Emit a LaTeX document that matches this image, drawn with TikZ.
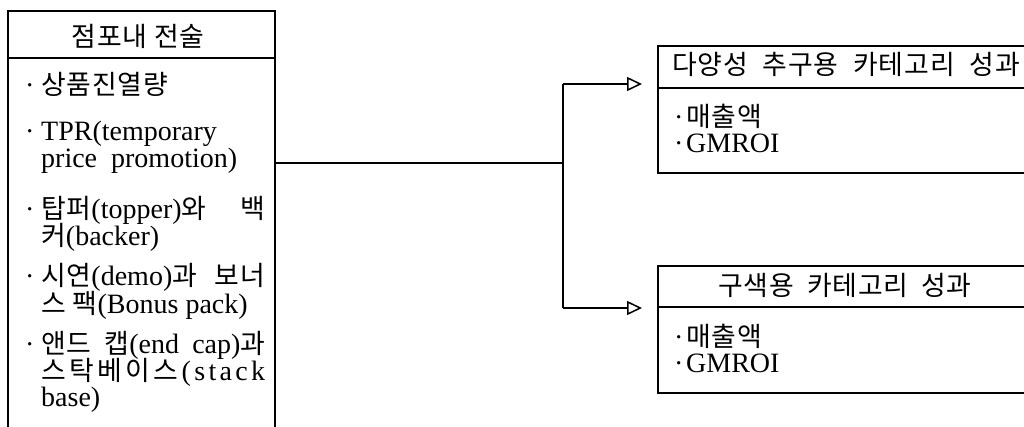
\documentclass[tikz,border=0pt]{standalone}
\usepackage{fontspec}
\setmainfont{Liberation Serif}
\newfontfamily\krfont[Scale=0.96,LetterSpace=3]{Noto Sans CJK KR}
\newcommand\kor[1]{{\krfont #1}}
\usetikzlibrary{arrows.meta}
\begin{document}
\begin{tikzpicture}[x=1pt,y=-1pt,
  txt/.style={anchor=base west, inner sep=0pt, font=\fontsize{28}{32}\selectfont},
  head/.style={anchor=center, inner sep=0pt, font=\fontsize{28}{32}\selectfont\krfont},
  box/.style={draw, line width=1.5pt, anchor=north west, inner sep=0pt},
  sep/.style={line width=2pt},
  conn/.style={line width=1.5pt},
  arr/.style={line width=1.5pt, -{Triangle[open, length=15pt, width=14pt, fill=white]}, shorten >=15pt}]
\useasboundingbox (0,0) rectangle (1024,426);
% left box
\node[box, minimum width=267pt, minimum height=450pt] (L) at (7,10) {};
\draw[sep] (L.north west |- 0,58) -- (L.north east |- 0,58);
\node[head] (Lh) at (138,36) {점포내 전술};
\node[txt] (b1) at (25,94) {·};
\node[txt] (t1) at (41,94) {\kor{상품진열량}};
\node[txt] (b2) at (25,140) {·};
\node[txt] (t2a) at (41,140) {TPR(temporary};
\node[txt] (t2b) at (41,167) {price\ \ promotion)};
\node[txt] (b3) at (25,218) {·};
\node[txt] (t3a) at (41,218) {\makebox[224pt][s]{\kor{탑퍼}(topper)\kor{와} \kor{백}}};
\node[txt] (t3b) at (41,245) {\kor{커}(backer)};
\node[txt] (b4) at (25,285) {·};
\node[txt] (t4a) at (41,285) {\makebox[224pt][s]{\kor{시연}(demo)\kor{과} \kor{보너}}};
\node[txt] (t4b) at (41,313) {\kor{스}\ \kor{팩}(Bonus pack)};
\node[txt] (b5) at (25,353) {·};
\node[txt] (t5a) at (41,353) {\makebox[224pt][s]{\kor{앤드} \kor{캡}(end cap)\kor{과}}};
\node[txt] (t5b) at (41,380) {\makebox[224pt][s]{\kor{스\hfil 탁\hfil 베\hfil 이\hfil 스}\hfil(\hfil s\hfil t\hfil a\hfil c\hfil k}};
\node[txt] (t5c) at (41,406) {base)};
% right boxes
\node[box, minimum width=378pt, minimum height=127pt] (R1) at (657,45) {};
\draw[sep] (R1.north west |- 0,88) -- (R1.north east |- 0,88);
\node[head] (R1h) at (846,64) {다양성\hspace{8pt} 추구용\hspace{8pt} 카테고리\hspace{8pt} 성과};
\node[txt] (r1b1) at (674,126) {·};
\node[txt] (r1t1) at (686,126) {\kor{매출액}};
\node[txt] (r1b2) at (674,152) {·};
\node[txt] (r1t2) at (686,152) {GMROI};
\node[box, minimum width=378pt, minimum height=127pt] (R2) at (657,265) {};
\draw[sep] (R2.north west |- 0,307) -- (R2.north east |- 0,307);
\node[head] (R2h) at (845,285) {구색용\hspace{6pt} 카테고리\hspace{6pt} 성과};
\node[txt] (r2b1) at (674,346) {·};
\node[txt] (r2t1) at (686,346) {\kor{매출액}};
\node[txt] (r2b2) at (674,372) {·};
\node[txt] (r2t2) at (686,372) {GMROI};
% connectors
\coordinate (j) at (563,163);
\coordinate (j1) at (563,84);
\coordinate (j2) at (563,308);
\draw[conn] (L.north east |- j) -- (j);
\draw[conn] (j1) -- (j2);
\draw[arr] (j1) -- (j1 -| R1.west);
\draw[arr] (j2) -- (j2 -| R2.west);
\end{tikzpicture}
\end{document}
